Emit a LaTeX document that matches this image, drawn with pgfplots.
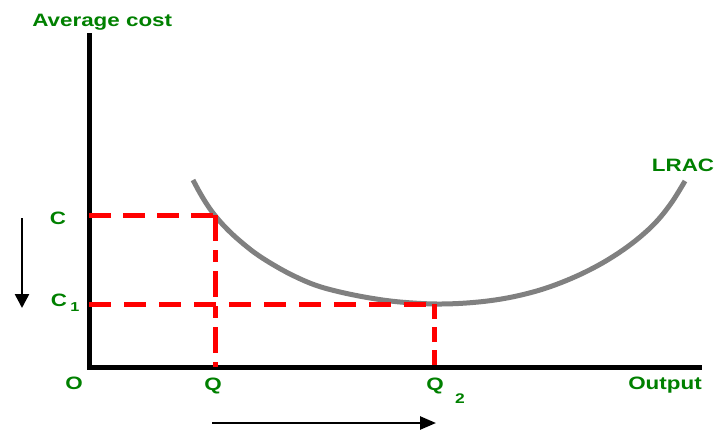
\documentclass[border=0pt]{standalone}
\usepackage{pgfplots}
\pgfplotsset{compat=1.18}
\usepackage{fontspec}
\setmainfont{Liberation Sans}
\usetikzlibrary{arrows.meta}
\definecolor{lgreen}{RGB}{0,128,0}
\definecolor{cgray}{RGB}{128,128,128}
\definecolor{cred}{RGB}{255,0,0}
\begin{document}
\begin{tikzpicture}[x=1bp,y=1bp]
\begin{axis}[
  hide axis, scale only axis, width=716bp, height=428bp,
  xmin=0, xmax=716, ymin=0, ymax=428, y dir=reverse,
  clip=false,
]
\path (rel axis cs:0,0) rectangle (rel axis cs:1,1);
% axes
\addplot[black, line width=5bp, line cap=rect] coordinates {(89,36) (89,367)};
\addplot[black, line width=5bp] coordinates {(89,367) (702,367)};
% LRAC curve
\addplot[cgray, line width=5bp, smooth, tension=0.6] coordinates {
 (193,180) (200,193) (208,206) (217,218) (228,230) (240,241) (255,253)
 (272,264) (292,275) (315,285) (340,292) (370,298) (400,302) (437,304)
 (473,302.5) (507,298) (540,290) (570,279) (597,266) (620,252) (640,237)
 (657,221) (672,202) (685,181)};
% red dashed lines
\addplot[cred, line width=5bp, dash pattern=on 22bp off 12bp] coordinates {(89,215) (215,215)};
\addplot[cred, line width=5bp, dash pattern=on 22bp off 13bp] coordinates {(89,304) (434,304)};
\addplot[cred, line width=5bp, dash pattern=on 26bp off 9bp on 12bp off 9bp] coordinates {(215,215) (215,367)};
\addplot[cred, line width=5bp, dash pattern=on 15bp off 8bp] coordinates {(434,304) (434,367)};
% arrows
\addplot[black, line width=2.5bp, -{Triangle[length=14bp,width=14bp]}] coordinates {(22,218) (22,308)};
\addplot[black, line width=2.5bp, -{Triangle[length=16bp,width=13bp]}] coordinates {(212,423) (436,423)};
% labels
\begin{scope}[every node/.style={text=lgreen, font=\fontsize{18}{20}\selectfont\bfseries, xscale=1.25, inner sep=0pt}]
\node[anchor=base west] at (axis cs:32,27) {Average cost};
\node at (axis cs:58,218) {C};
\node at (axis cs:59,300) {C};
\node[font=\fontsize{13}{15}\selectfont\bfseries] at (axis cs:75,307) {1};
\node at (axis cs:74,383) {O};
\node at (axis cs:213,386) {Q};
\node at (axis cs:435,386) {Q};
\node[font=\fontsize{14}{16}\selectfont\bfseries] at (axis cs:460,399) {2};
\node at (axis cs:665,385) {Output};
\node at (axis cs:683,165) {LRAC};
\end{scope}
\end{axis}
\end{tikzpicture}
\end{document}
